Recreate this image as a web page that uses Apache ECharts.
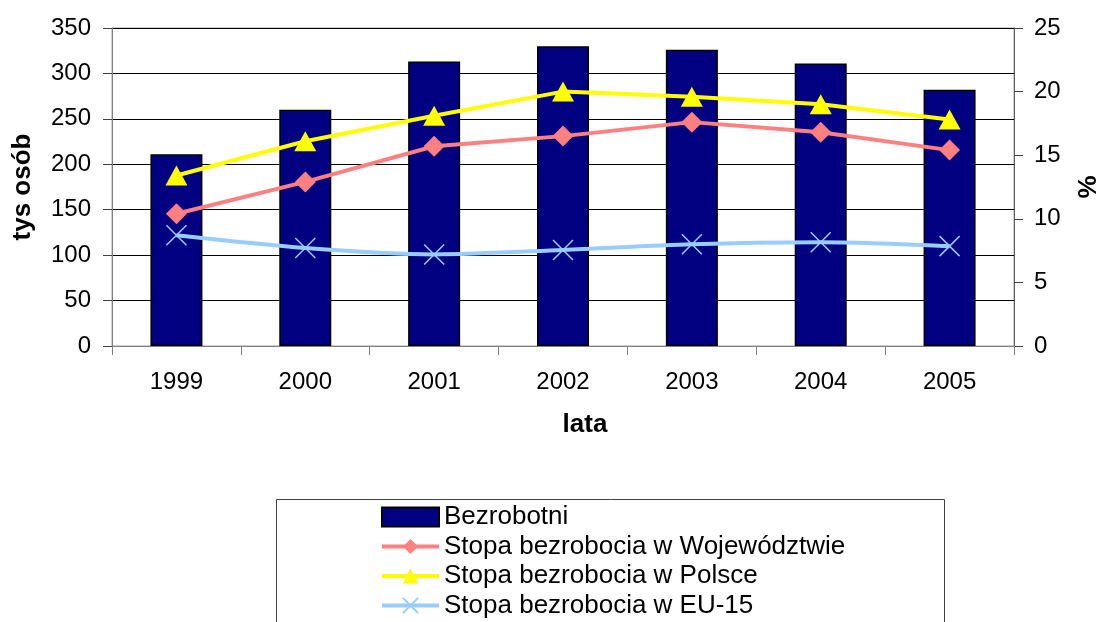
<!DOCTYPE html>
<html>
<head>
<meta charset="utf-8">
<title>Bezrobocie 1999-2005</title>
<script src="https://cdn.jsdelivr.net/npm/echarts@6/dist/echarts.min.js"></script>
<style>
  html, body { margin: 0; padding: 0; background: #fff; }
  #chart { width: 1098px; height: 622px; }
</style>
</head>
<body>
<div id="chart"></div>
<script>
  // lata
  var years = ['1999', '2000', '2001', '2002', '2003', '2004', '2005'];
  // tys osób
  var bezrobotni = [211, 260, 313, 330, 326, 311, 282];
  // %
  var stopaWojewodztwo = [10.4, 12.9, 15.7, 16.5, 17.6, 16.8, 15.4];
  var stopaPolska = [13.4, 16.1, 18.1, 20.0, 19.6, 19.0, 17.8];
  var stopaEU15 = [8.7, 7.7, 7.2, 7.55, 8.0, 8.15, 7.85];

  var font = "'Liberation Sans', Arial, sans-serif";

  var chart = echarts.init(document.getElementById('chart'));
  var option = {
    animation: false,
    backgroundColor: '#fff',
    textStyle: { fontFamily: font, color: '#000' },
    grid: {
      left: 112,
      right: 84,
      top: 28,
      height: 318,
      containLabel: false,
      outerBoundsMode: 'none',
      show: true,
      borderColor: '#a0a0a0',
      borderWidth: 1
    },
    legend: {
      orient: 'vertical',
      left: 380,
      top: 504,
      height: 118,
      padding: 0,
      itemWidth: 57,
      itemHeight: 19,
      itemGap: 3.5,
      lineStyle: { width: 4 },
      textStyle: { fontFamily: font, fontSize: 26, lineHeight: 26, color: '#000' },
      data: [
        { name: 'Bezrobotni', icon: 'rect' },
        'Stopa bezrobocia w Województwie',
        'Stopa bezrobocia w Polsce',
        'Stopa bezrobocia w EU-15'
      ]
    },
    graphic: [{
      type: 'rect',
      z: -1,
      shape: { x: 276.5, y: 499.5, width: 668, height: 200 },
      style: { fill: 'none', stroke: '#404040', lineWidth: 1 }
    }],
    xAxis: {
      type: 'category',
      data: years,
      name: 'lata',
      nameLocation: 'middle',
      nameGap: 66,
      nameTextStyle: { fontFamily: font, fontSize: 26, fontWeight: 'bold', color: '#000', padding: [0, 0, 0, 44] },
      axisLine: { lineStyle: { color: '#808080', width: 1 } },
      axisTick: { show: true, length: 9, interval: 0, lineStyle: { color: '#808080' } },
      axisLabel: { fontFamily: font, fontSize: 24, color: '#000', margin: 24 }
    },
    yAxis: [
      {
        type: 'value',
        min: 0,
        max: 350,
        interval: 50,
        name: 'tys osób',
        nameLocation: 'middle',
        nameRotate: 90,
        nameGap: 76,
        nameTextStyle: { fontFamily: font, fontSize: 26, fontWeight: 'bold', color: '#000' },
        axisLine: { show: true, lineStyle: { color: '#808080', width: 1 } },
        axisTick: { show: true, length: 9, lineStyle: { color: '#404040' } },
        axisLabel: { fontFamily: font, fontSize: 24, color: '#000', margin: 21 },
        splitLine: { show: true, lineStyle: { color: '#000', width: 1 } }
      },
      {
        type: 'value',
        min: 0,
        max: 25,
        interval: 5,
        name: '%',
        nameLocation: 'middle',
        nameRotate: 90,
        nameGap: 62,
        nameTextStyle: { fontFamily: font, fontSize: 26, fontWeight: 'bold', color: '#000' },
        axisLine: { show: true, lineStyle: { color: '#606060', width: 1 } },
        axisTick: { show: true, length: 9, lineStyle: { color: '#404040' } },
        axisLabel: { fontFamily: font, fontSize: 24, color: '#000', margin: 20 },
        splitLine: { show: false }
      }
    ],
    series: [
      {
        name: 'Bezrobotni',
        type: 'bar',
        yAxisIndex: 0,
        data: bezrobotni,
        barWidth: 52,
        itemStyle: { color: '#000080', borderColor: '#000', borderWidth: 1.5 }
      },
      {
        name: 'Stopa bezrobocia w Województwie',
        type: 'line',
        yAxisIndex: 1,
        data: stopaWojewodztwo,
        symbol: 'diamond',
        symbolSize: [21, 21],
        lineStyle: { color: '#ff8080', width: 4 },
        itemStyle: { color: '#ff8080' }
      },
      {
        name: 'Stopa bezrobocia w Polsce',
        type: 'line',
        yAxisIndex: 1,
        data: stopaPolska,
        symbol: 'triangle',
        symbolSize: [22, 20],
        lineStyle: { color: '#ffff00', width: 4 },
        itemStyle: { color: '#ffff00' }
      },
      {
        name: 'Stopa bezrobocia w EU-15',
        type: 'line',
        yAxisIndex: 1,
        data: stopaEU15,
        smooth: 0.3,
        symbol: 'path://M0,0L20,20M20,0L0,20',
        symbolSize: [20, 20],
        lineStyle: { color: '#99ccff', width: 4 },
        itemStyle: { color: '#99ccff', borderColor: '#99ccff', borderWidth: 1.5 }
      }
    ]
  };
  chart.setOption(option);
</script>
</body>
</html>
